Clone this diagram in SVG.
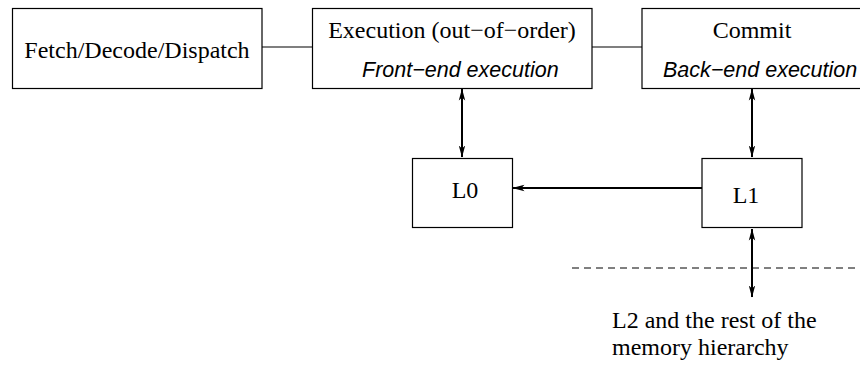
<svg xmlns="http://www.w3.org/2000/svg" width="860" height="366" viewBox="0 0 860 366">
  <style>
    .box { fill: #ffffff; stroke: #000000; stroke-width: 1.2; }
    .serif { font-family: "Liberation Serif", "Times New Roman", serif; font-size: 24px; fill: #000000; }
    .sans { font-family: "Liberation Sans", Arial, sans-serif; font-size: 21.5px; font-style: italic; fill: #000000; }
    .link { stroke: #000000; stroke-width: 1.2; fill: none; }
    .arrow { stroke: #000000; stroke-width: 2; fill: none; }
    .dash { stroke: #000000; stroke-width: 1; stroke-dasharray: 7 5; fill: none; }
  </style>
  <defs>
    <marker id="head" viewBox="0 0 12 8" refX="11.5" refY="4" markerWidth="12" markerHeight="8" markerUnits="userSpaceOnUse" orient="auto-start-reverse">
      <path d="M0,0.8 L12,4 L0,7.2 L3,4 Z" fill="#000000"/>
    </marker>
  </defs>

  <g id="connectors">
    <line class="link" x1="262" y1="47" x2="312" y2="47"/>
    <line class="link" x1="592" y1="47" x2="642" y2="47"/>
    <line class="arrow" x1="462" y1="89" x2="462" y2="157" marker-start="url(#head)" marker-end="url(#head)"/>
    <line class="arrow" x1="752" y1="89" x2="752" y2="157" marker-start="url(#head)" marker-end="url(#head)"/>
    <line class="arrow" x1="702" y1="188" x2="513" y2="188" marker-end="url(#head)"/>
    <line class="arrow" x1="752" y1="229" x2="752" y2="297" marker-start="url(#head)" marker-end="url(#head)"/>
    <line class="dash" x1="572" y1="268" x2="860" y2="268"/>
  </g>

  <g id="fetch">
    <rect class="box" x="12.5" y="8.5" width="249.5" height="80"/>
    <text class="serif" x="137" y="58" text-anchor="middle">Fetch/Decode/Dispatch</text>
  </g>

  <g id="execution">
    <rect class="box" x="312.5" y="8.5" width="279.5" height="80"/>
    <text class="serif" x="452" y="38" text-anchor="middle">Execution (out−of−order)</text>
    <text class="sans" x="362" y="77">Front−end execution</text>
  </g>

  <g id="commit">
    <rect class="box" x="642" y="8.5" width="222" height="80"/>
    <text class="serif" x="752" y="38" text-anchor="middle">Commit</text>
    <text class="sans" x="663" y="77">Back−end execution</text>
  </g>

  <g id="l0">
    <rect class="box" x="412.5" y="158.5" width="100" height="69"/>
    <text class="serif" x="465" y="198" text-anchor="middle">L0</text>
  </g>

  <g id="l1">
    <rect class="box" x="702" y="158.5" width="100" height="69"/>
    <text class="serif" x="746" y="202.5" text-anchor="middle">L1</text>
  </g>

  <g id="memory">
    <text class="serif" x="612" y="328">L2 and the rest of the</text>
    <text class="serif" x="612" y="355">memory hierarchy</text>
  </g>
</svg>
